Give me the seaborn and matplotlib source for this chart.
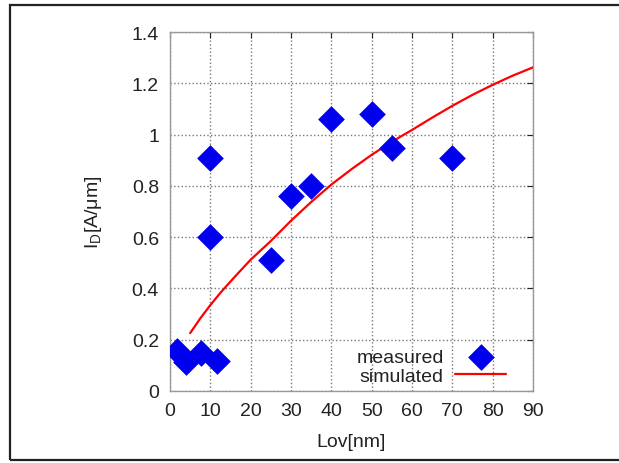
import matplotlib
matplotlib.use("Agg")
import matplotlib.pyplot as plt
import seaborn as sns
import pandas as pd
from matplotlib.patches import Rectangle

# measured data
meas_x = [1.8, 3.9, 7.8, 11.7, 10, 10, 25, 30, 35, 40, 50, 55, 70]
meas_y = [0.156, 0.112, 0.147, 0.118, 0.91, 0.60, 0.512, 0.759, 0.80, 1.06, 1.08, 0.949, 0.91]

# simulated curve
sim_x = [5, 7.5, 10, 12.5, 15, 17.5, 20, 25, 30, 35, 40, 45, 50, 55, 60, 65, 70, 75, 80, 85, 90]
sim_y = [0.226, 0.283, 0.335, 0.383, 0.427, 0.470, 0.512, 0.585, 0.664, 0.737, 0.805, 0.865,
         0.921, 0.972, 1.018, 1.066, 1.112, 1.155, 1.194, 1.230, 1.262]

x_ticks = [0, 10, 20, 30, 40, 50, 60, 70, 80, 90]
y_ticks = [0, 0.2, 0.4, 0.6, 0.8, 1.0, 1.2, 1.4]
y_tick_labels = ["0", "0.2", "0.4", "0.6", "0.8", "1", "1.2", "1.4"]

sns.set_style("white")
plt.rcParams['font.family'] = ['Liberation Sans', 'DejaVu Sans']
plt.rcParams['mathtext.fontset'] = 'custom'
plt.rcParams['mathtext.rm'] = 'Liberation Sans'

FS = 14

fig = plt.figure(figsize=(6.19, 4.64), dpi=100)
ax = fig.add_axes([170/619, 72/464, 363/619, 359/464])

df_m = pd.DataFrame({"x": meas_x, "y": meas_y})
df_s = pd.DataFrame({"x": sim_x, "y": sim_y})

sns.lineplot(data=df_s, x="x", y="y", ax=ax, color="#ff0000", linewidth=1.6,
             label="simulated", zorder=3)
sns.scatterplot(data=df_m, x="x", y="y", ax=ax, marker="D", s=185, color="#0000ee",
                linewidth=0, label="measured", zorder=4)

ax.set_xlim(0, 90)
ax.set_ylim(0, 1.4)
ax.set_xticks(x_ticks)
ax.set_yticks(y_ticks)
ax.set_yticklabels(y_tick_labels)
ax.tick_params(direction="in", length=4, top=True, right=True, labelsize=FS,
               colors="#222222", pad=8)
ax.grid(True, linestyle=":", color="#777777", linewidth=1.0)
for sp in ax.spines.values():
    sp.set_color("#999999")
    sp.set_linewidth(1.0)

ax.set_xlabel("Lov[nm]", fontsize=FS, color="#222222", labelpad=10)
ax.set_ylabel(r"I$_\mathrm{D}$[A/μm]", fontsize=FS, color="#222222", labelpad=20)

handles, labels = ax.get_legend_handles_labels()
order = [labels.index("measured"), labels.index("simulated")]
leg = ax.legend([handles[i] for i in order], [labels[i] for i in order],
                loc="lower right", frameon=False, markerfirst=False, fontsize=FS,
                handlelength=2.6, handletextpad=0.6, labelspacing=0.05,
                borderaxespad=0.3, bbox_to_anchor=(0.963, -0.02))
for t in leg.get_texts():
    t.set_color("#222222")
    t.set_ha("right")

fig.patches.append(Rectangle((10/619, 3/464), 1.02, 455/464, transform=fig.transFigure,
                             fill=False, edgecolor="#222222", linewidth=1.6))

fig.savefig("out.png", dpi=100)
